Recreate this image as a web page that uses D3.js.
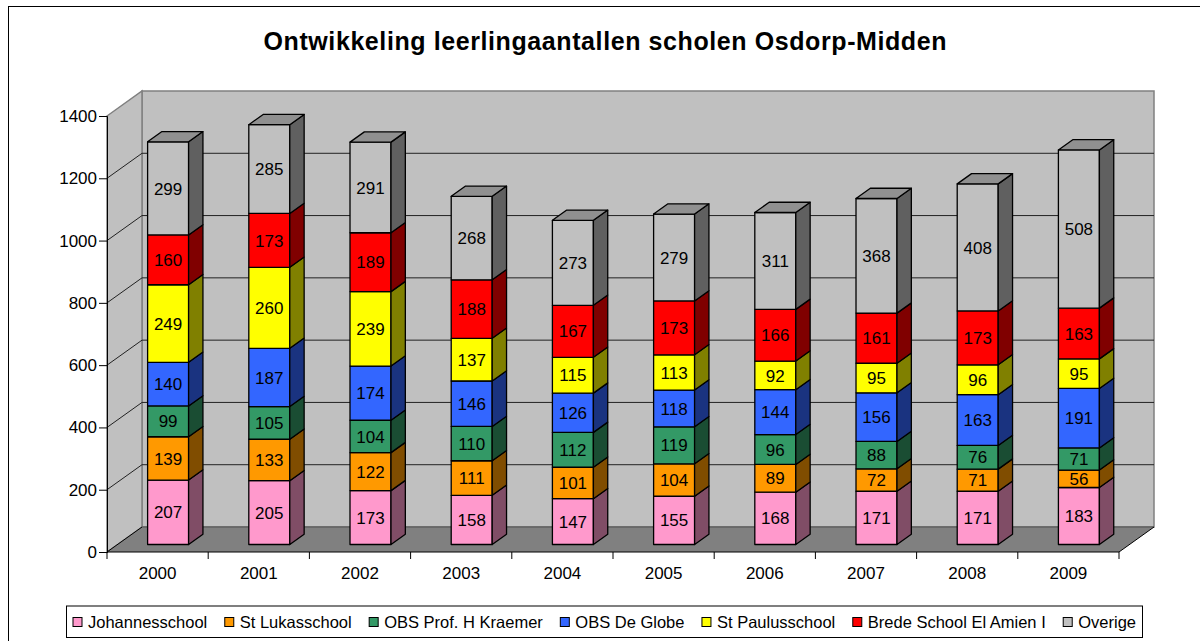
<!DOCTYPE html>
<html><head><meta charset="utf-8">
<script src="https://cdn.jsdelivr.net/npm/d3@7/dist/d3.min.js"></script>
<style>
html,body{margin:0;padding:0;background:#fff;}
svg{display:block;font-family:"Liberation Sans",Arial,sans-serif;}
</style></head>
<body><svg id="c" width="1200" height="641"></svg>
<script>
const years = ["2000","2001","2002","2003","2004","2005","2006","2007","2008","2009"];
const seriesNames = ["Johannesschool","St Lukasschool","OBS Prof. H Kraemer","OBS De Globe","St Paulusschool","Brede School El Amien I","Overige"];
const seriesColors = ["#ff99cc","#ff9900","#339966","#3366ff","#ffff00","#ff0000","#c0c0c0"];
const johannes = [207,205,173,158,147,155,168,171,171,183];
const lukas    = [139,133,122,111,101,104,89,72,71,56];
const kraemer  = [99,105,104,110,112,119,96,88,76,71];
const globe    = [140,187,174,146,126,118,144,156,163,191];
const paulus   = [249,260,239,137,115,113,92,95,96,95];
const brede    = [160,173,189,188,167,173,166,161,173,163];
const overige  = [299,285,291,268,273,279,311,368,408,508];
const yTicks = [0,200,400,600,800,1000,1200,1400];
const title = "Ontwikkeling leerlingaantallen scholen Osdorp-Midden";

const seriesValues = [johannes,lukas,kraemer,globe,paulus,brede,overige];
const svg = d3.select("#c");
const FS = 17;

// chart area border
svg.append("rect").attr("x",8.5).attr("y",6.5).attr("width",1300).attr("height",700)
  .attr("fill","#fff").attr("stroke","#000").attr("stroke-width",1);

// title
svg.append("text").attr("x",605).attr("y",50).attr("text-anchor","middle")
  .attr("font-size",25).attr("font-weight","bold").attr("textLength",683).attr("lengthAdjust","spacing")
  .text(title);

// geometry
const X0 = 107, X1 = 1119, DX = 35, DY = -25;
const x = d3.scaleBand().domain(years).range([X0,X1]).paddingInner(0.595).paddingOuter(0.2975);
const y = d3.scaleLinear().domain([0,1400]).range([552,116]);
const f1 = 0.30, f2 = 0.71;
const bdx = DX*(f2-f1), bdy = DY*(f2-f1);
const ox = DX*f1, oy = DY*f1;

const poly = pts => "M" + pts.map(p=>p.join(",")).join("L") + "Z";

// walls
const g = svg.append("g");
g.append("path").attr("d", poly([[X0+DX,y(1400)+DY],[X1+DX,y(1400)+DY],[X1+DX,y(0)+DY],[X0+DX,y(0)+DY]]))
  .attr("fill","#c0c0c0").attr("stroke","#808080").attr("stroke-width",1.5);
g.append("path").attr("d", poly([[X0,y(1400)],[X0+DX,y(1400)+DY],[X0+DX,y(0)+DY],[X0,y(0)]]))
  .attr("fill","#c0c0c0").attr("stroke","#808080").attr("stroke-width",1.5);
yTicks.forEach(t=>{
  if(t===0||t===1400) return;
  g.append("path").attr("d", `M${X0},${y(t)}L${X0+DX},${y(t)+DY}L${X1+DX},${y(t)+DY}`)
    .attr("fill","none").attr("stroke","#222").attr("stroke-width",1);
});
g.append("path").attr("d", poly([[X0,y(0)],[X1,y(0)],[X1+DX,y(0)+DY],[X0+DX,y(0)+DY]]))
  .attr("fill","#808080").attr("stroke","none");
g.append("path").attr("d", `M${X0+DX},${y(0)+DY}L${X1+DX},${y(0)+DY}`).attr("stroke","#606060").attr("stroke-width",1.5);
g.append("path").attr("d", `M${X0},${y(0)}L${X0+DX},${y(0)+DY}`).attr("stroke","#000").attr("stroke-width",1);
g.append("path").attr("d", `M${X1},${y(0)}L${X1+DX},${y(0)+DY}`).attr("stroke","#000").attr("stroke-width",1);

// axes
const ya = svg.append("g").attr("transform",`translate(${X0},0)`)
  .call(d3.axisLeft(y).tickValues(yTicks).tickSize(8).tickPadding(2).tickFormat(d3.format("d")));
ya.selectAll("text").attr("font-size",FS).attr("fill","#000").attr("font-family","Liberation Sans, Arial, sans-serif");
ya.selectAll("line,path").attr("stroke","#000");

const xa = svg.append("g").attr("transform",`translate(0,${y(0)})`)
  .call(d3.axisBottom(x).tickSize(0).tickPadding(15));
xa.select(".domain").remove();
xa.selectAll("text").attr("font-size",FS).attr("fill","#000").attr("font-family","Liberation Sans, Arial, sans-serif");
svg.append("path").attr("d",`M${X0},${y(0)}L${X1},${y(0)}`).attr("stroke","#000");
const bounds = years.map((d,i)=> i===0 ? X0 : (x(years[i-1]) + x.bandwidth() + x(d))/2).concat([X1]);
svg.append("g").selectAll("line").data(bounds).join("line")
  .attr("x1",d=>d).attr("x2",d=>d).attr("y1",y(0)).attr("y2",y(0)+7).attr("stroke","#000");

// bars
const shade = (c,k)=>{const r=d3.rgb(c);return d3.rgb(r.r*k,r.g*k,r.b*k).formatHex();};
const bars = svg.append("g");
years.forEach((yr,i)=>{
  let cum = 0;
  const xl = x(yr)+ox, xr = xl + x.bandwidth();
  seriesValues.forEach((vals,s)=>{
    const v = vals[i];
    const yb = y(cum)+oy, yt = y(cum+v)+oy;
    const col = seriesColors[s];
    bars.append("path").attr("d", poly([[xl,yb],[xr,yb],[xr,yt],[xl,yt]]))
      .attr("fill",col).attr("stroke","#000").attr("stroke-width",1.3).attr("stroke-linejoin","round");
    bars.append("path").attr("d", poly([[xr,yb],[xr+bdx,yb+bdy],[xr+bdx,yt+bdy],[xr,yt]]))
      .attr("fill",shade(col,0.5)).attr("stroke","#000").attr("stroke-width",1.3).attr("stroke-linejoin","round");
    if(s===seriesValues.length-1){
      bars.append("path").attr("d", poly([[xl,yt],[xr,yt],[xr+bdx,yt+bdy],[xl+bdx,yt+bdy]]))
        .attr("fill",shade(col,0.75)).attr("stroke","#000").attr("stroke-width",1.3).attr("stroke-linejoin","round");
    }
    bars.append("text").attr("x",(xl+xr)/2).attr("y",(yb+yt)/2).attr("dy","0.36em")
      .attr("text-anchor","middle").attr("font-size",FS).attr("fill","#000").text(v);
    cum += v;
  });
});

// legend
const LX0 = 66.5, LX1 = 1142.5, LY0 = 606, LY1 = 637.5;
const leg = svg.append("g");
leg.append("rect").attr("x",LX0).attr("y",LY0).attr("width",LX1-LX0).attr("height",LY1-LY0)
  .attr("fill","#fff").attr("stroke","#000");
const items = leg.selectAll("g.it").data(seriesNames).join("g").attr("class","it");
items.append("rect").attr("width",9).attr("height",9).attr("y",LY0+11.5)
  .attr("fill",(d,i)=>seriesColors[i]).attr("stroke","#000");
items.append("text").attr("x",15).attr("y",(LY0+LY1)/2).attr("dy","0.36em").attr("font-size",16.5).text(d=>d);
const lens = [];
items.select("text").each(function(){lens.push(this.getComputedTextLength());});
const pad = 6.5;
const sumLen = d3.sum(lens);
const gap = ((LX1-LX0) - 2*pad - sumLen - seriesNames.length*15)/(seriesNames.length-1);
let cx = LX0 + pad;
items.each(function(d,i){
  d3.select(this).attr("transform",`translate(${cx},0)`);
  cx += 15 + lens[i] + gap;
});
</script></body></html>
